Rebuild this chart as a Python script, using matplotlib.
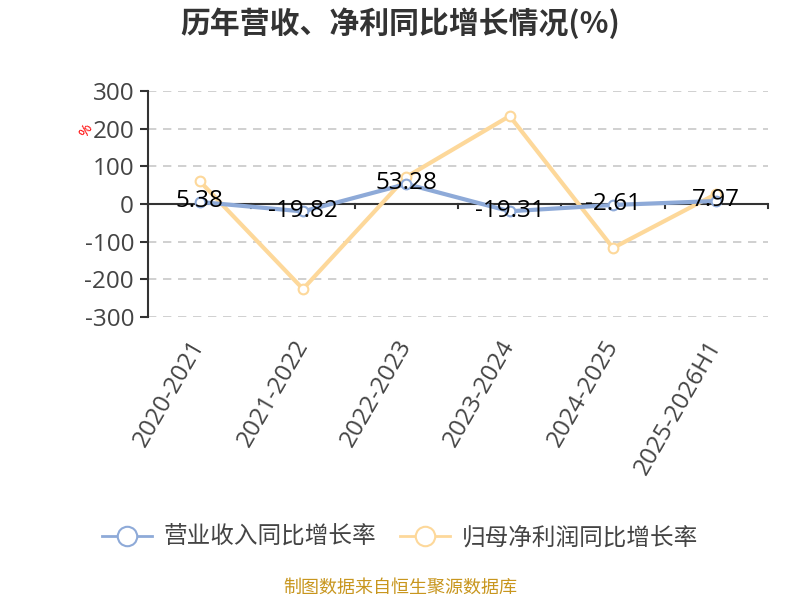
import matplotlib
matplotlib.use("Agg")
import matplotlib.pyplot as plt
import numpy as np

plt.rcParams['font.family'] = ['Open Sans', 'Noto Sans CJK SC', 'DejaVu Sans']

categories = ["2020-2021", "2021-2022", "2022-2023", "2023-2024", "2024-2025", "2025-2026H1"]
revenue_growth = [5.38, -19.82, 53.28, -19.31, -2.61, 7.97]
profit_growth = [61, -226, 72, 234, -117, 27]
yticks = [-300, -200, -100, 0, 100, 200, 300]

blue = "#8eaad8"
yellow = "#fdd89a"

fig = plt.figure(figsize=(8, 6), dpi=100)
ax = fig.add_axes([0.185, 0.472, 0.775, 0.376])

x = np.arange(len(categories))
ax.plot(x, revenue_growth, color=blue, lw=3, marker='o', ms=7, mfc='white',
        mec=blue, mew=1.5, zorder=4, label="营业收入同比增长率")
ax.plot(x, profit_growth, color=yellow, lw=3, marker='o', ms=7, mfc='white',
        mec=yellow, mew=1.5, zorder=3, label="归母净利润同比增长率")

for xi, v in zip(x, revenue_growth):
    ax.text(xi, v + 2, f"{v:.2f}", ha='center', va='center', fontsize=17.5,
            color='black', zorder=5)

ax.set_xlim(-0.5, len(categories) - 0.5)
ax.set_ylim(-300, 300)
ax.set_yticks(yticks)
ax.set_yticklabels([str(t) for t in yticks], fontsize=17.5, color='#444444')
ax.grid(axis='y', color='#c8c8c8', linestyle=(0, (5, 4)), lw=1.2)
ax.set_axisbelow(True)

ax.set_xticks(x)
ax.set_xticklabels(categories, rotation=60, ha='right', va='center',
                   rotation_mode='anchor', fontsize=17.5, color='#444444')
ax.tick_params(axis='x', length=0, pad=18)
# boundary ticks on the zero axis
for b in np.arange(-0.5, len(categories), 1.0):
    ax.plot([b, b], [0, -10], color='#333333', lw=1.5, clip_on=False, zorder=2)
ax.axhline(0, color='#333333', lw=1.5, zorder=2)

for s in ['top', 'right', 'bottom']:
    ax.spines[s].set_visible(False)
ax.spines['left'].set_color('#333333')
ax.spines['left'].set_linewidth(1.5)
ax.tick_params(axis='y', length=6, width=1.5, color='#333333', pad=4)

fig.text(0.5, 0.962, "历年营收、净利同比增长情况(%)", ha='center', va='center',
         fontsize=21.5, fontweight='bold', color='#333333',
         family=['Noto Sans CJK SC', 'DejaVu Sans'])
fig.text(0.108, 0.782, "%", ha='center', va='center', fontsize=11,
         color='red', rotation=60)

leg = fig.legend(loc='center', bbox_to_anchor=(0.5, 0.104), ncol=2, frameon=False,
                 handlelength=2.1, columnspacing=1.0, handletextpad=0.5,
                 markerscale=2.0, prop={'family': ['Noto Sans CJK SC'], 'size': 17})
for t in leg.get_texts():
    t.set_color('#444444')
for h in leg.legend_handles:
    h.set_linewidth(2)

fig.text(0.5, 0.02, "制图数据来自恒生聚源数据库", ha='center', va='center',
         fontsize=13, color='#c8961e', family=['Noto Sans CJK SC'])

fig.savefig("out.png", dpi=100)
